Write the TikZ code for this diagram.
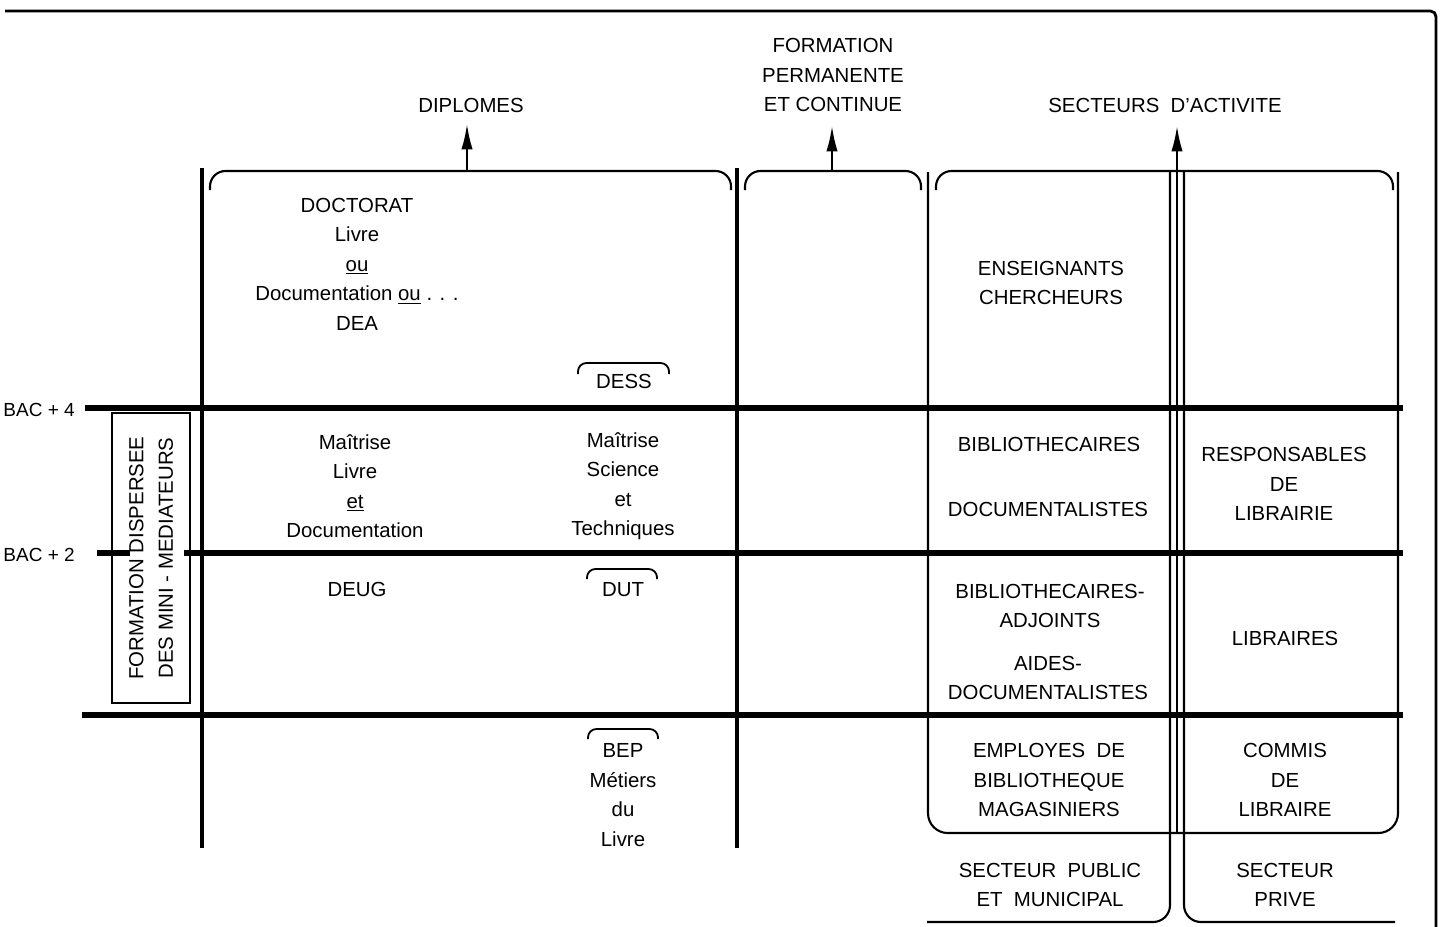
\documentclass[tikz,border=0pt]{standalone}
\usepackage{fontspec}
\setmainfont{Liberation Sans}
\usetikzlibrary{arrows.meta}

\begin{document}
\begin{tikzpicture}[x=0.025cm, y=-0.025cm, >={Latex[length=18pt,width=8pt]},
  txt/.style={font=\fontsize{14.5}{21}\selectfont, align=center, inner sep=0pt},
  levelline/.style={line width=3.8pt},
  colline/.style={line width=3.3pt},
  slimrule/.style={line width=1.5pt},
  brace/.style={line width=1.5pt, rounded corners=11pt},
  minibrace/.style={line width=1.3pt, rounded corners=6pt}]
  \useasboundingbox (0,0) rectangle (1444,926);

  % frame
  \draw[line width=2pt, rounded corners=4pt] (5,11) -- (1436,11) -- (1436,940);

  % columns and levels
  \draw[colline] (202,168) -- (202,848);
  \draw[colline] (737,168) -- (737,848);
  \draw[levelline] (85,408) -- (1403,408);
  \draw[levelline] (97,553) -- (130,553);
  \draw[levelline] (184,553) -- (1403,553);
  \draw[levelline] (82,715) -- (1403,715);

  \node[txt, anchor=east, font=\fontsize{13.5}{16}\selectfont] (bacfour) at (75,410) {BAC + 4};
  \node[txt, anchor=east, font=\fontsize{13.5}{16}\selectfont] (bactwo) at (75,555) {BAC + 2};
  \node[txt, draw, line width=1.2pt, rotate=90, minimum width=7.25cm, minimum height=1.95cm] (minimed) at (151,558) {FORMATION DISPERSEE\\DES MINI - MEDIATEURS};

  % heads
  \draw[brace] (210,190) -- (210,171) -- (731,171) -- (731,190);
  \draw[brace] (745,190) -- (745,171) -- (921,171) -- (921,190);
  \draw[brace] (936,190) -- (936,171) -- (1393,171) -- (1393,190);
  \node[txt] (diplomes) at (471,105) {DIPLOMES};
  \node[txt] (formation) at (833,75) {FORMATION\\PERMANENTE\\ET CONTINUE};
  \node[txt] (secteurs) at (1165,105) {SECTEURS~~D'ACTIVITE};
  \coordinate (dipfoot) at (467,171);  \coordinate (diptip) at (467,124);
  \coordinate (forfoot) at (832,171);  \coordinate (fortip) at (832,126);
  \coordinate (actfoot) at (1177,833); \coordinate (acttip) at (1177,126);
  \draw[slimrule,->] (dipfoot) -- (diptip);
  \draw[slimrule,->] (forfoot) -- (fortip);

  % sectors
  \draw[slimrule, rounded corners=14pt] (928,172) -- (928,833) -- (1398,833) -- (1398,172);
  \draw[slimrule, rounded corners=12pt] (1170,171) -- (1170,922) -- (927,922);
  \draw[slimrule, rounded corners=12pt] (1184,171) -- (1184,922) -- (1395,922);
  \draw[slimrule,->] (actfoot) -- (acttip);

  % diplomas
  \node[txt] (doctorat) at (357,264) {DOCTORAT\\Livre\\\underline{ou}\\Documentation \underline{ou} . . .\\DEA};
  \node[txt] (maitlivre) at (355,486) {Maîtrise\\Livre\\\underline{et}\\Documentation};
  \node[txt] (deug) at (357,589) {DEUG};
  \node[txt] (dess) at (624,381) {DESS};
  \node[txt] (maitsci) at (623,486) {Maîtrise\\Science\\et\\Techniques};
  \node[txt] (dut) at (623,590) {DUT};
  \node[txt] (bep) at (623,795) {BEP\\Métiers\\du\\Livre};
  \draw[minibrace] (578,374) -- (578,363) -- (669,363) -- (669,374);
  \draw[minibrace] (587,579) -- (587,569) -- (657,569) -- (657,579);
  \draw[minibrace] (588,739) -- (588,729) -- (658,729) -- (658,739);

  % jobs
  \node[txt] (enseignants) at (1051,283) {ENSEIGNANTS\\CHERCHEURS};
  \node[txt] (biblio) at (1049,444) {BIBLIOTHECAIRES};
  \node[txt] (docum) at (1048,509) {DOCUMENTALISTES};
  \node[txt] (adjoints) at (1050,606) {BIBLIOTHECAIRES-\\ADJOINTS};
  \node[txt] (aides) at (1048,678) {AIDES-\\DOCUMENTALISTES};
  \node[txt] (employes) at (1049,780) {EMPLOYES~~DE\\BIBLIOTHEQUE\\MAGASINIERS};
  \node[txt] (secpublic) at (1050,885) {SECTEUR~~PUBLIC\\ET~~MUNICIPAL};
  \node[txt] (respons) at (1284,484) {RESPONSABLES\\DE\\LIBRAIRIE};
  \node[txt] (libraires) at (1285,638) {LIBRAIRES};
  \node[txt] (commis) at (1285,780) {COMMIS\\DE\\LIBRAIRE};
  \node[txt] (secprive) at (1285,885) {SECTEUR\\PRIVE};
\end{tikzpicture}
\end{document}
